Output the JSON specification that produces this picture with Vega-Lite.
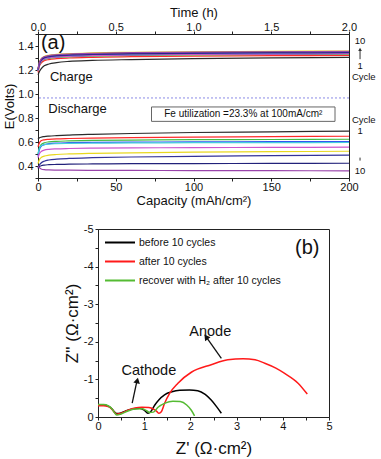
{
"$schema": "https://vega.github.io/schema/vega-lite/v6.json",
"padding": {"left": 3, "top": 5, "right": 0, "bottom": 0},
"background": "white",
"spacing": 14,
"resolve": {"scale": {"color": "independent"}, "legend": {"color": "independent"}},
"config": {
  "font": "Liberation Sans",
  "view": {"stroke": "#222", "strokeWidth": 1},
  "axis": {"domainColor": "#222", "tickColor": "#222", "labelColor": "#111", "titleColor": "#111", "labelFont": "Liberation Sans", "titleFont": "Liberation Sans", "titleFontWeight": "normal", "grid": false, "tickSize": 3, "labelFontSize": 11, "titleFontSize": 13, "labelFlush": false, "labelPadding": 2, "labelOverlap": false},
  "text": {"font": "Liberation Sans", "color": "#111"}
},
"datasets": {
"cd": [
{"mode":"charge","cycle":1,"cap":0,"E":1.16},{"mode":"charge","cycle":1,"cap":1,"E":1.19},{"mode":"charge","cycle":1,"cap":2,"E":1.21},{"mode":"charge","cycle":1,"cap":4,"E":1.235},{"mode":"charge","cycle":1,"cap":7,"E":1.25},{"mode":"charge","cycle":1,"cap":12,"E":1.262},{"mode":"charge","cycle":1,"cap":20,"E":1.272},{"mode":"charge","cycle":1,"cap":35,"E":1.28},{"mode":"charge","cycle":1,"cap":60,"E":1.287},{"mode":"charge","cycle":1,"cap":100,"E":1.295},{"mode":"charge","cycle":1,"cap":150,"E":1.301},{"mode":"charge","cycle":1,"cap":200,"E":1.305},
{"mode":"charge","cycle":2,"cap":0,"E":1.18},{"mode":"charge","cycle":2,"cap":1,"E":1.235},{"mode":"charge","cycle":2,"cap":2,"E":1.257},{"mode":"charge","cycle":2,"cap":4,"E":1.277},{"mode":"charge","cycle":2,"cap":7,"E":1.287},{"mode":"charge","cycle":2,"cap":12,"E":1.294},{"mode":"charge","cycle":2,"cap":20,"E":1.3},{"mode":"charge","cycle":2,"cap":35,"E":1.306},{"mode":"charge","cycle":2,"cap":60,"E":1.311},{"mode":"charge","cycle":2,"cap":100,"E":1.316},{"mode":"charge","cycle":2,"cap":150,"E":1.319},{"mode":"charge","cycle":2,"cap":200,"E":1.322},
{"mode":"charge","cycle":3,"cap":0,"E":1.19},{"mode":"charge","cycle":3,"cap":1,"E":1.245},{"mode":"charge","cycle":3,"cap":2,"E":1.268},{"mode":"charge","cycle":3,"cap":4,"E":1.288},{"mode":"charge","cycle":3,"cap":7,"E":1.297},{"mode":"charge","cycle":3,"cap":12,"E":1.304},{"mode":"charge","cycle":3,"cap":20,"E":1.31},{"mode":"charge","cycle":3,"cap":35,"E":1.316},{"mode":"charge","cycle":3,"cap":60,"E":1.321},{"mode":"charge","cycle":3,"cap":100,"E":1.326},{"mode":"charge","cycle":3,"cap":150,"E":1.329},{"mode":"charge","cycle":3,"cap":200,"E":1.332},
{"mode":"charge","cycle":4,"cap":0,"E":1.2},{"mode":"charge","cycle":4,"cap":1,"E":1.25},{"mode":"charge","cycle":4,"cap":2,"E":1.273},{"mode":"charge","cycle":4,"cap":4,"E":1.293},{"mode":"charge","cycle":4,"cap":7,"E":1.303},{"mode":"charge","cycle":4,"cap":12,"E":1.31},{"mode":"charge","cycle":4,"cap":20,"E":1.316},{"mode":"charge","cycle":4,"cap":35,"E":1.322},{"mode":"charge","cycle":4,"cap":60,"E":1.327},{"mode":"charge","cycle":4,"cap":100,"E":1.332},{"mode":"charge","cycle":4,"cap":150,"E":1.335},{"mode":"charge","cycle":4,"cap":200,"E":1.338},
{"mode":"charge","cycle":5,"cap":0,"E":1.2},{"mode":"charge","cycle":5,"cap":1,"E":1.255},{"mode":"charge","cycle":5,"cap":2,"E":1.277},{"mode":"charge","cycle":5,"cap":4,"E":1.297},{"mode":"charge","cycle":5,"cap":7,"E":1.307},{"mode":"charge","cycle":5,"cap":12,"E":1.314},{"mode":"charge","cycle":5,"cap":20,"E":1.32},{"mode":"charge","cycle":5,"cap":35,"E":1.326},{"mode":"charge","cycle":5,"cap":60,"E":1.331},{"mode":"charge","cycle":5,"cap":100,"E":1.336},{"mode":"charge","cycle":5,"cap":150,"E":1.339},{"mode":"charge","cycle":5,"cap":200,"E":1.342},
{"mode":"charge","cycle":6,"cap":0,"E":1.19},{"mode":"charge","cycle":6,"cap":1,"E":1.248},{"mode":"charge","cycle":6,"cap":2,"E":1.271},{"mode":"charge","cycle":6,"cap":4,"E":1.291},{"mode":"charge","cycle":6,"cap":7,"E":1.301},{"mode":"charge","cycle":6,"cap":12,"E":1.308},{"mode":"charge","cycle":6,"cap":20,"E":1.314},{"mode":"charge","cycle":6,"cap":35,"E":1.32},{"mode":"charge","cycle":6,"cap":60,"E":1.325},{"mode":"charge","cycle":6,"cap":100,"E":1.33},{"mode":"charge","cycle":6,"cap":150,"E":1.333},{"mode":"charge","cycle":6,"cap":200,"E":1.336},
{"mode":"charge","cycle":7,"cap":0,"E":1.21},{"mode":"charge","cycle":7,"cap":1,"E":1.268},{"mode":"charge","cycle":7,"cap":2,"E":1.293},{"mode":"charge","cycle":7,"cap":4,"E":1.313},{"mode":"charge","cycle":7,"cap":7,"E":1.323},{"mode":"charge","cycle":7,"cap":12,"E":1.33},{"mode":"charge","cycle":7,"cap":20,"E":1.336},{"mode":"charge","cycle":7,"cap":35,"E":1.342},{"mode":"charge","cycle":7,"cap":60,"E":1.347},{"mode":"charge","cycle":7,"cap":100,"E":1.352},{"mode":"charge","cycle":7,"cap":150,"E":1.355},{"mode":"charge","cycle":7,"cap":200,"E":1.358},
{"mode":"charge","cycle":8,"cap":0,"E":1.2},{"mode":"charge","cycle":8,"cap":1,"E":1.256},{"mode":"charge","cycle":8,"cap":2,"E":1.28},{"mode":"charge","cycle":8,"cap":4,"E":1.3},{"mode":"charge","cycle":8,"cap":7,"E":1.31},{"mode":"charge","cycle":8,"cap":12,"E":1.317},{"mode":"charge","cycle":8,"cap":20,"E":1.323},{"mode":"charge","cycle":8,"cap":35,"E":1.329},{"mode":"charge","cycle":8,"cap":60,"E":1.334},{"mode":"charge","cycle":8,"cap":100,"E":1.339},{"mode":"charge","cycle":8,"cap":150,"E":1.342},{"mode":"charge","cycle":8,"cap":200,"E":1.345},
{"mode":"charge","cycle":9,"cap":0,"E":1.21},{"mode":"charge","cycle":9,"cap":1,"E":1.26},{"mode":"charge","cycle":9,"cap":2,"E":1.285},{"mode":"charge","cycle":9,"cap":4,"E":1.305},{"mode":"charge","cycle":9,"cap":7,"E":1.315},{"mode":"charge","cycle":9,"cap":12,"E":1.322},{"mode":"charge","cycle":9,"cap":20,"E":1.328},{"mode":"charge","cycle":9,"cap":35,"E":1.334},{"mode":"charge","cycle":9,"cap":60,"E":1.339},{"mode":"charge","cycle":9,"cap":100,"E":1.344},{"mode":"charge","cycle":9,"cap":150,"E":1.347},{"mode":"charge","cycle":9,"cap":200,"E":1.35},
{"mode":"charge","cycle":10,"cap":0,"E":1.21},{"mode":"charge","cycle":10,"cap":1,"E":1.265},{"mode":"charge","cycle":10,"cap":2,"E":1.29},{"mode":"charge","cycle":10,"cap":4,"E":1.31},{"mode":"charge","cycle":10,"cap":7,"E":1.32},{"mode":"charge","cycle":10,"cap":12,"E":1.327},{"mode":"charge","cycle":10,"cap":20,"E":1.333},{"mode":"charge","cycle":10,"cap":35,"E":1.339},{"mode":"charge","cycle":10,"cap":60,"E":1.344},{"mode":"charge","cycle":10,"cap":100,"E":1.349},{"mode":"charge","cycle":10,"cap":150,"E":1.352},{"mode":"charge","cycle":10,"cap":200,"E":1.355},
{"mode":"discharge","cycle":1,"cap":0,"E":0.625},{"mode":"discharge","cycle":1,"cap":1,"E":0.635},{"mode":"discharge","cycle":1,"cap":2,"E":0.64},{"mode":"discharge","cycle":1,"cap":4,"E":0.645},{"mode":"discharge","cycle":1,"cap":7,"E":0.649},{"mode":"discharge","cycle":1,"cap":12,"E":0.653},{"mode":"discharge","cycle":1,"cap":20,"E":0.658},{"mode":"discharge","cycle":1,"cap":35,"E":0.664},{"mode":"discharge","cycle":1,"cap":60,"E":0.671},{"mode":"discharge","cycle":1,"cap":100,"E":0.679},{"mode":"discharge","cycle":1,"cap":150,"E":0.685},{"mode":"discharge","cycle":1,"cap":200,"E":0.69},
{"mode":"discharge","cycle":2,"cap":0,"E":0.56},{"mode":"discharge","cycle":2,"cap":1,"E":0.595},{"mode":"discharge","cycle":2,"cap":2,"E":0.61},{"mode":"discharge","cycle":2,"cap":4,"E":0.618},{"mode":"discharge","cycle":2,"cap":7,"E":0.622},{"mode":"discharge","cycle":2,"cap":12,"E":0.626},{"mode":"discharge","cycle":2,"cap":20,"E":0.629},{"mode":"discharge","cycle":2,"cap":35,"E":0.633},{"mode":"discharge","cycle":2,"cap":60,"E":0.637},{"mode":"discharge","cycle":2,"cap":100,"E":0.641},{"mode":"discharge","cycle":2,"cap":150,"E":0.645},{"mode":"discharge","cycle":2,"cap":200,"E":0.648},
{"mode":"discharge","cycle":3,"cap":0,"E":0.5},{"mode":"discharge","cycle":3,"cap":1,"E":0.555},{"mode":"discharge","cycle":3,"cap":2,"E":0.578},{"mode":"discharge","cycle":3,"cap":4,"E":0.593},{"mode":"discharge","cycle":3,"cap":7,"E":0.601},{"mode":"discharge","cycle":3,"cap":12,"E":0.606},{"mode":"discharge","cycle":3,"cap":20,"E":0.609},{"mode":"discharge","cycle":3,"cap":35,"E":0.613},{"mode":"discharge","cycle":3,"cap":60,"E":0.616},{"mode":"discharge","cycle":3,"cap":100,"E":0.619},{"mode":"discharge","cycle":3,"cap":150,"E":0.621},{"mode":"discharge","cycle":3,"cap":200,"E":0.623},
{"mode":"discharge","cycle":4,"cap":0,"E":0.48},{"mode":"discharge","cycle":4,"cap":1,"E":0.54},{"mode":"discharge","cycle":4,"cap":2,"E":0.563},{"mode":"discharge","cycle":4,"cap":4,"E":0.578},{"mode":"discharge","cycle":4,"cap":7,"E":0.586},{"mode":"discharge","cycle":4,"cap":12,"E":0.591},{"mode":"discharge","cycle":4,"cap":20,"E":0.594},{"mode":"discharge","cycle":4,"cap":35,"E":0.597},{"mode":"discharge","cycle":4,"cap":60,"E":0.599},{"mode":"discharge","cycle":4,"cap":100,"E":0.601},{"mode":"discharge","cycle":4,"cap":150,"E":0.603},{"mode":"discharge","cycle":4,"cap":200,"E":0.604},
{"mode":"discharge","cycle":5,"cap":0,"E":0.5},{"mode":"discharge","cycle":5,"cap":1,"E":0.55},{"mode":"discharge","cycle":5,"cap":2,"E":0.568},{"mode":"discharge","cycle":5,"cap":4,"E":0.578},{"mode":"discharge","cycle":5,"cap":7,"E":0.583},{"mode":"discharge","cycle":5,"cap":12,"E":0.586},{"mode":"discharge","cycle":5,"cap":20,"E":0.588},{"mode":"discharge","cycle":5,"cap":35,"E":0.59},{"mode":"discharge","cycle":5,"cap":60,"E":0.592},{"mode":"discharge","cycle":5,"cap":100,"E":0.594},{"mode":"discharge","cycle":5,"cap":150,"E":0.595},{"mode":"discharge","cycle":5,"cap":200,"E":0.596},
{"mode":"discharge","cycle":6,"cap":0,"E":0.47},{"mode":"discharge","cycle":6,"cap":1,"E":0.505},{"mode":"discharge","cycle":6,"cap":2,"E":0.52},{"mode":"discharge","cycle":6,"cap":4,"E":0.532},{"mode":"discharge","cycle":6,"cap":7,"E":0.539},{"mode":"discharge","cycle":6,"cap":12,"E":0.543},{"mode":"discharge","cycle":6,"cap":20,"E":0.546},{"mode":"discharge","cycle":6,"cap":35,"E":0.549},{"mode":"discharge","cycle":6,"cap":60,"E":0.551},{"mode":"discharge","cycle":6,"cap":100,"E":0.553},{"mode":"discharge","cycle":6,"cap":150,"E":0.555},{"mode":"discharge","cycle":6,"cap":200,"E":0.557},
{"mode":"discharge","cycle":7,"cap":0,"E":0.42},{"mode":"discharge","cycle":7,"cap":1,"E":0.455},{"mode":"discharge","cycle":7,"cap":2,"E":0.47},{"mode":"discharge","cycle":7,"cap":4,"E":0.482},{"mode":"discharge","cycle":7,"cap":7,"E":0.49},{"mode":"discharge","cycle":7,"cap":12,"E":0.496},{"mode":"discharge","cycle":7,"cap":20,"E":0.501},{"mode":"discharge","cycle":7,"cap":35,"E":0.506},{"mode":"discharge","cycle":7,"cap":60,"E":0.51},{"mode":"discharge","cycle":7,"cap":100,"E":0.515},{"mode":"discharge","cycle":7,"cap":150,"E":0.519},{"mode":"discharge","cycle":7,"cap":200,"E":0.523},
{"mode":"discharge","cycle":8,"cap":0,"E":0.38},{"mode":"discharge","cycle":8,"cap":1,"E":0.41},{"mode":"discharge","cycle":8,"cap":2,"E":0.425},{"mode":"discharge","cycle":8,"cap":4,"E":0.44},{"mode":"discharge","cycle":8,"cap":7,"E":0.45},{"mode":"discharge","cycle":8,"cap":12,"E":0.457},{"mode":"discharge","cycle":8,"cap":20,"E":0.463},{"mode":"discharge","cycle":8,"cap":35,"E":0.469},{"mode":"discharge","cycle":8,"cap":60,"E":0.475},{"mode":"discharge","cycle":8,"cap":100,"E":0.481},{"mode":"discharge","cycle":8,"cap":150,"E":0.486},{"mode":"discharge","cycle":8,"cap":200,"E":0.49},
{"mode":"discharge","cycle":9,"cap":0,"E":0.385},{"mode":"discharge","cycle":9,"cap":1,"E":0.395},{"mode":"discharge","cycle":9,"cap":2,"E":0.402},{"mode":"discharge","cycle":9,"cap":4,"E":0.408},{"mode":"discharge","cycle":9,"cap":7,"E":0.411},{"mode":"discharge","cycle":9,"cap":12,"E":0.413},{"mode":"discharge","cycle":9,"cap":20,"E":0.415},{"mode":"discharge","cycle":9,"cap":35,"E":0.417},{"mode":"discharge","cycle":9,"cap":60,"E":0.419},{"mode":"discharge","cycle":9,"cap":100,"E":0.42},{"mode":"discharge","cycle":9,"cap":150,"E":0.422},{"mode":"discharge","cycle":9,"cap":200,"E":0.423},
{"mode":"discharge","cycle":10,"cap":0,"E":0.4},{"mode":"discharge","cycle":10,"cap":1,"E":0.385},{"mode":"discharge","cycle":10,"cap":2,"E":0.375},{"mode":"discharge","cycle":10,"cap":4,"E":0.369},{"mode":"discharge","cycle":10,"cap":7,"E":0.367},{"mode":"discharge","cycle":10,"cap":12,"E":0.366},{"mode":"discharge","cycle":10,"cap":20,"E":0.365},{"mode":"discharge","cycle":10,"cap":35,"E":0.364},{"mode":"discharge","cycle":10,"cap":60,"E":0.363},{"mode":"discharge","cycle":10,"cap":100,"E":0.362},{"mode":"discharge","cycle":10,"cap":150,"E":0.361},{"mode":"discharge","cycle":10,"cap":200,"E":0.36}
],
"annAbig": [{"label":"(a)","cap":1.9,"E":1.428}],
"annAmid": [{"label":"Charge","cap":7.7,"E":1.142},{"label":"Discharge","cap":6.6,"E":0.878}],
"boxA": [{"label":"Fe utilization =23.3% at 100mA/cm²","x1":73,"x2":191,"y1":0.892,"y2":0.772,"cx":132,"cy":0.833}],
"cycA": [{"label":"10","cap":207.1,"E":1.445},{"label":"1","cap":207.1,"E":1.235},{"label":"Cycle","cap":209.5,"E":1.145},{"label":"Cycle","cap":209.5,"E":0.78},{"label":"1","cap":207.1,"E":0.69},{"label":"10","cap":207.1,"E":0.358}],
"arrA": [{"cap":207.1,"E":1.29,"E2":1.372},{"cap":207.1,"E":0.47,"E2":0.445}],
"headA": [{"cap":207.1,"E":1.372,"ang":0}],
"eis": [
{"cond":"before 10 cycles","i":0,"z1":0,"z2":-0.32},{"cond":"before 10 cycles","i":1,"z1":0.12,"z2":-0.32},{"cond":"before 10 cycles","i":2,"z1":0.22,"z2":-0.29},{"cond":"before 10 cycles","i":3,"z1":0.3,"z2":-0.22},{"cond":"before 10 cycles","i":4,"z1":0.36,"z2":-0.13},{"cond":"before 10 cycles","i":5,"z1":0.4,"z2":-0.09},{"cond":"before 10 cycles","i":6,"z1":0.48,"z2":-0.1},{"cond":"before 10 cycles","i":7,"z1":0.6,"z2":-0.16},{"cond":"before 10 cycles","i":8,"z1":0.75,"z2":-0.21},{"cond":"before 10 cycles","i":9,"z1":0.9,"z2":-0.23},{"cond":"before 10 cycles","i":10,"z1":1.0,"z2":-0.18},{"cond":"before 10 cycles","i":11,"z1":1.08,"z2":-0.1},{"cond":"before 10 cycles","i":12,"z1":1.14,"z2":-0.14},{"cond":"before 10 cycles","i":13,"z1":1.23,"z2":-0.32},{"cond":"before 10 cycles","i":14,"z1":1.32,"z2":-0.46},{"cond":"before 10 cycles","i":15,"z1":1.44,"z2":-0.59},{"cond":"before 10 cycles","i":16,"z1":1.6,"z2":-0.67},{"cond":"before 10 cycles","i":17,"z1":1.77,"z2":-0.71},{"cond":"before 10 cycles","i":18,"z1":1.98,"z2":-0.72},{"cond":"before 10 cycles","i":19,"z1":2.16,"z2":-0.7},{"cond":"before 10 cycles","i":20,"z1":2.32,"z2":-0.6},{"cond":"before 10 cycles","i":21,"z1":2.45,"z2":-0.45},{"cond":"before 10 cycles","i":22,"z1":2.57,"z2":-0.27},{"cond":"before 10 cycles","i":23,"z1":2.67,"z2":-0.1},
{"cond":"after 10 cycles","i":0,"z1":0,"z2":-0.3},{"cond":"after 10 cycles","i":1,"z1":0.12,"z2":-0.3},{"cond":"after 10 cycles","i":2,"z1":0.22,"z2":-0.28},{"cond":"after 10 cycles","i":3,"z1":0.3,"z2":-0.21},{"cond":"after 10 cycles","i":4,"z1":0.36,"z2":-0.12},{"cond":"after 10 cycles","i":5,"z1":0.4,"z2":-0.07},{"cond":"after 10 cycles","i":6,"z1":0.5,"z2":-0.1},{"cond":"after 10 cycles","i":7,"z1":0.65,"z2":-0.18},{"cond":"after 10 cycles","i":8,"z1":0.8,"z2":-0.24},{"cond":"after 10 cycles","i":9,"z1":0.95,"z2":-0.26},{"cond":"after 10 cycles","i":10,"z1":1.1,"z2":-0.25},{"cond":"after 10 cycles","i":11,"z1":1.2,"z2":-0.21},{"cond":"after 10 cycles","i":12,"z1":1.27,"z2":-0.15},{"cond":"after 10 cycles","i":13,"z1":1.32,"z2":-0.1},{"cond":"after 10 cycles","i":14,"z1":1.37,"z2":-0.14},{"cond":"after 10 cycles","i":15,"z1":1.44,"z2":-0.36},{"cond":"after 10 cycles","i":16,"z1":1.55,"z2":-0.63},{"cond":"after 10 cycles","i":17,"z1":1.73,"z2":-0.9},{"cond":"after 10 cycles","i":18,"z1":2.02,"z2":-1.19},{"cond":"after 10 cycles","i":19,"z1":2.45,"z2":-1.39},{"cond":"after 10 cycles","i":20,"z1":2.81,"z2":-1.52},{"cond":"after 10 cycles","i":21,"z1":3.14,"z2":-1.55},{"cond":"after 10 cycles","i":22,"z1":3.4,"z2":-1.52},{"cond":"after 10 cycles","i":23,"z1":3.61,"z2":-1.43},{"cond":"after 10 cycles","i":24,"z1":3.85,"z2":-1.3},{"cond":"after 10 cycles","i":25,"z1":4.04,"z2":-1.16},{"cond":"after 10 cycles","i":26,"z1":4.33,"z2":-0.9},{"cond":"after 10 cycles","i":27,"z1":4.53,"z2":-0.61},
{"cond":"recover with H₂ after 10 cycles","i":0,"z1":0,"z2":-0.33},{"cond":"recover with H₂ after 10 cycles","i":1,"z1":0.12,"z2":-0.33},{"cond":"recover with H₂ after 10 cycles","i":2,"z1":0.22,"z2":-0.3},{"cond":"recover with H₂ after 10 cycles","i":3,"z1":0.3,"z2":-0.22},{"cond":"recover with H₂ after 10 cycles","i":4,"z1":0.36,"z2":-0.11},{"cond":"recover with H₂ after 10 cycles","i":5,"z1":0.41,"z2":-0.05},{"cond":"recover with H₂ after 10 cycles","i":6,"z1":0.5,"z2":-0.08},{"cond":"recover with H₂ after 10 cycles","i":7,"z1":0.65,"z2":-0.16},{"cond":"recover with H₂ after 10 cycles","i":8,"z1":0.8,"z2":-0.21},{"cond":"recover with H₂ after 10 cycles","i":9,"z1":0.95,"z2":-0.22},{"cond":"recover with H₂ after 10 cycles","i":10,"z1":1.05,"z2":-0.17},{"cond":"recover with H₂ after 10 cycles","i":11,"z1":1.12,"z2":-0.12},{"cond":"recover with H₂ after 10 cycles","i":12,"z1":1.2,"z2":-0.13},{"cond":"recover with H₂ after 10 cycles","i":13,"z1":1.3,"z2":-0.26},{"cond":"recover with H₂ after 10 cycles","i":14,"z1":1.45,"z2":-0.37},{"cond":"recover with H₂ after 10 cycles","i":15,"z1":1.62,"z2":-0.42},{"cond":"recover with H₂ after 10 cycles","i":16,"z1":1.78,"z2":-0.41},{"cond":"recover with H₂ after 10 cycles","i":17,"z1":1.92,"z2":-0.32},{"cond":"recover with H₂ after 10 cycles","i":18,"z1":2.02,"z2":-0.18},{"cond":"recover with H₂ after 10 cycles","i":19,"z1":2.09,"z2":-0.03}
],
"annBbig": [{"label":"(b)","z1":4.53,"z2":-4.5}],
"annB": [{"label":"Anode","z1":2.43,"z2":-2.25},{"label":"Cathode","z1":1.1,"z2":-1.23}],
"arrB": [{"z1":2.67,"z2":-1.56,"z1b":2.36,"z2b":-2.1},{"z1":0.74,"z2":-0.37,"z1b":0.84,"z2b":-0.94}],
"headB": [{"z1":2.34,"z2":-2.13,"ang":-36},{"z1":0.85,"z2":-0.97,"ang":13}]
},
"vconcat": [
{
  "width": 311, "height": 144,
  "resolve": {"axis": {"x": "independent"}},
  "layer": [
    {"data": {"name": "cd"}, "mark": {"type": "line", "strokeWidth": 1.2, "interpolate": "monotone"},
     "encoding": {
       "x": {"field": "cap", "type": "quantitative", "scale": {"domain": [0, 200], "nice": false},
             "axis": {"orient": "bottom", "title": "Capacity (mAh/cm²)", "values": [0,25,50,75,100,125,150,175,200], "tickCount": 100, "labelExpr": "datum.value % 50 === 0 ? '' + datum.value : ''", "labelOverlap": false, "labelPadding": 0, "titlePadding": 2}},
       "y": {"field": "E", "type": "quantitative", "scale": {"domain": [0.3, 1.5], "nice": false, "zero": false},
             "axis": {"title": "E(Volts)", "values": [0.3,0.4,0.5,0.6,0.7,0.8,0.9,1.0,1.1,1.2,1.3,1.4,1.5], "tickCount": 100, "labelExpr": "round(datum.value*10) % 2 === 0 ? format(datum.value, '.1f') : ''", "labelOverlap": false, "titlePadding": 1}},
       "color": {"field": "cycle", "type": "ordinal", "scale": {"domain": [1,2,3,4,5,6,7,8,9,10], "range": ["#2b2b2b","#ff2a2a","#44bb44","#3355ee","#44ccdd","#cc55cc","#e8d820","#333399","#22227a","#9944aa"]}, "legend": null},
       "detail": {"field": "mode"}
     }},
    {"data": {"values": [{}]}, "mark": {"type": "rule", "strokeDash": [2, 2], "color": "#8a8ae6", "strokeWidth": 1},
     "encoding": {"y": {"datum": 0.967, "scale": {"domain": [0.3, 1.5], "nice": false, "zero": false}}}},
    {"data": {"name": "boxA"}, "mark": {"type": "rect", "fill": "white", "stroke": "#666", "strokeWidth": 1},
     "encoding": {
       "x": {"field": "x1", "type": "quantitative", "scale": {"domain": [0, 200], "nice": false}, "axis": null},
       "x2": {"field": "x2"},
       "y": {"field": "y1", "type": "quantitative", "scale": {"domain": [0.3, 1.5], "nice": false, "zero": false}},
       "y2": {"field": "y2"}
     }},
    {"data": {"name": "boxA"}, "mark": {"type": "text", "fontSize": 10, "align": "center", "baseline": "middle"},
     "encoding": {
       "x": {"field": "cx", "type": "quantitative", "scale": {"domain": [0, 200], "nice": false},
             "axis": {"orient": "top", "title": "Time (h)", "values": [0,25,50,75,100,125,150,175,200], "tickCount": 100, "labelExpr": "datum.value % 50 === 0 ? format(datum.value/100, '.1f') : ''", "labelOverlap": false, "labelPadding": -1, "titlePadding": 2}},
       "y": {"field": "cy", "type": "quantitative", "scale": {"domain": [0.3, 1.5], "nice": false, "zero": false}},
       "text": {"field": "label"}
     }},
    {"data": {"name": "annAbig"}, "mark": {"type": "text", "fontSize": 20, "align": "left", "baseline": "middle"},
     "encoding": {
       "x": {"field": "cap", "type": "quantitative", "scale": {"domain": [0, 200], "nice": false}, "axis": null},
       "y": {"field": "E", "type": "quantitative", "scale": {"domain": [0.3, 1.5], "nice": false, "zero": false}},
       "text": {"field": "label"}
     }},
    {"data": {"name": "annAmid"}, "mark": {"type": "text", "fontSize": 13, "align": "left", "baseline": "middle"},
     "encoding": {
       "x": {"field": "cap", "type": "quantitative", "scale": {"domain": [0, 200], "nice": false}, "axis": null},
       "y": {"field": "E", "type": "quantitative", "scale": {"domain": [0.3, 1.5], "nice": false, "zero": false}},
       "text": {"field": "label"}
     }},
    {"data": {"name": "cycA"}, "mark": {"type": "text", "fontSize": 9.5, "align": "center", "baseline": "middle"},
     "encoding": {
       "x": {"field": "cap", "type": "quantitative", "scale": {"domain": [0, 200], "nice": false}, "axis": null},
       "y": {"field": "E", "type": "quantitative", "scale": {"domain": [0.3, 1.5], "nice": false, "zero": false}},
       "text": {"field": "label"}
     }},
    {"data": {"name": "arrA"}, "mark": {"type": "rule", "color": "#333", "strokeWidth": 1},
     "encoding": {
       "x": {"field": "cap", "type": "quantitative", "scale": {"domain": [0, 200], "nice": false}, "axis": null},
       "y": {"field": "E", "type": "quantitative", "scale": {"domain": [0.3, 1.5], "nice": false, "zero": false}},
       "y2": {"field": "E2"}
     }},
    {"data": {"name": "headA"}, "mark": {"type": "point", "shape": "triangle-up", "filled": true, "size": 14, "color": "#333", "opacity": 1},
     "encoding": {
       "x": {"field": "cap", "type": "quantitative", "scale": {"domain": [0, 200], "nice": false}, "axis": null},
       "y": {"field": "E", "type": "quantitative", "scale": {"domain": [0.3, 1.5], "nice": false, "zero": false}},
       "angle": {"field": "ang", "type": "quantitative", "scale": null}
     }}
  ]
},
{
  "spacing": 0,
  "resolve": {"scale": {"color": "independent"}, "legend": {"color": "independent"}},
  "hconcat": [
    {"width": 24, "height": 10, "data": {"values": [{}]}, "mark": {"type": "point", "opacity": 0}, "view": {"stroke": null}},
    {
      "width": 231, "height": 188,
      "layer": [
        {"data": {"name": "eis"}, "mark": {"type": "line", "strokeWidth": 1.5, "interpolate": "monotone"},
         "encoding": {
           "x": {"field": "z1", "type": "quantitative", "scale": {"domain": [0, 5], "nice": false},
                 "axis": {"title": "Z' (Ω·cm²)", "titleFontSize": 17, "values": [0,0.5,1,1.5,2,2.5,3,3.5,4,4.5,5], "tickCount": 100, "labelExpr": "datum.value % 1 === 0 ? '' + datum.value : ''", "labelOverlap": false, "labelPadding": 0, "titlePadding": 9}},
           "y": {"field": "z2", "type": "quantitative", "scale": {"domain": [-5, 0], "nice": false, "zero": false, "reverse": true},
                 "axis": {"title": "Z'' (Ω·cm²)", "titleFontSize": 17, "values": [-5,-4.5,-4,-3.5,-3,-2.5,-2,-1.5,-1,-0.5,0], "tickCount": 100, "labelExpr": "datum.value % 1 === 0 ? '' + datum.value : ''", "labelOverlap": false, "titlePadding": 2}},
           "color": {"field": "cond", "type": "nominal",
                     "scale": {"domain": ["before 10 cycles", "after 10 cycles", "recover with H₂ after 10 cycles"], "range": ["#000000", "#ff1a1a", "#55bb33"]},
                     "legend": {"orient": "none", "legendX": 6, "legendY": 4, "title": null, "symbolType": "stroke", "symbolSize": 900, "symbolStrokeWidth": 2, "labelFontSize": 10.5, "labelFont": "Liberation Sans", "labelColor": "#111", "clipHeight": 19, "rowPadding": 0, "labelOffset": 3, "padding": 0}},
           "order": {"field": "i", "type": "quantitative"}
         }},
        {"data": {"name": "annBbig"}, "mark": {"type": "text", "fontSize": 20, "align": "center", "baseline": "middle"},
         "encoding": {
           "x": {"field": "z1", "type": "quantitative", "scale": {"domain": [0, 5], "nice": false}},
           "y": {"field": "z2", "type": "quantitative", "scale": {"domain": [-5, 0], "nice": false, "zero": false, "reverse": true}},
           "text": {"field": "label"}
         }},
        {"data": {"name": "annB"}, "mark": {"type": "text", "fontSize": 14.5, "align": "center", "baseline": "middle"},
         "encoding": {
           "x": {"field": "z1", "type": "quantitative", "scale": {"domain": [0, 5], "nice": false}},
           "y": {"field": "z2", "type": "quantitative", "scale": {"domain": [-5, 0], "nice": false, "zero": false, "reverse": true}},
           "text": {"field": "label"}
         }},
        {"data": {"name": "arrB"}, "mark": {"type": "rule", "color": "#111", "strokeWidth": 1.3},
         "encoding": {
           "x": {"field": "z1", "type": "quantitative", "scale": {"domain": [0, 5], "nice": false}},
           "y": {"field": "z2", "type": "quantitative", "scale": {"domain": [-5, 0], "nice": false, "zero": false, "reverse": true}},
           "x2": {"field": "z1b"},
           "y2": {"field": "z2b"}
         }},
        {"data": {"name": "headB"}, "mark": {"type": "point", "shape": "triangle-up", "filled": true, "size": 45, "color": "#111", "opacity": 1},
         "encoding": {
           "x": {"field": "z1", "type": "quantitative", "scale": {"domain": [0, 5], "nice": false}},
           "y": {"field": "z2", "type": "quantitative", "scale": {"domain": [-5, 0], "nice": false, "zero": false, "reverse": true}},
           "angle": {"field": "ang", "type": "quantitative", "scale": null}
         }}
      ]
    }
  ]
}
]
}
